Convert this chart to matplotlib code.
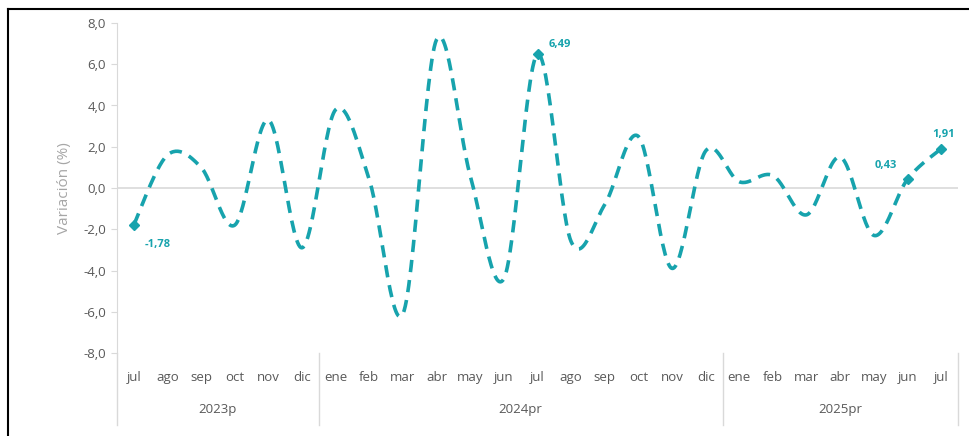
import matplotlib
matplotlib.use("Agg")
import matplotlib.pyplot as plt
import numpy as np
from matplotlib.lines import Line2D

plt.rcParams["font.family"] = ["Open Sans", "DejaVu Sans"]

months = ["jul", "ago", "sep", "oct", "nov", "dic",
          "ene", "feb", "mar", "abr", "may", "jun", "jul", "ago", "sep", "oct", "nov", "dic",
          "ene", "feb", "mar", "abr", "may", "jun", "jul"]
years = ["2023p", "2024pr", "2025pr"]
year_spans = [(0, 5), (6, 17), (18, 24)]
values = [-1.78, 1.6, 1.0, -1.8, 3.3, -2.9,
          3.8, 0.4, -6.1, 7.2, 0.6, -4.4, 6.49, -2.6, -0.8, 2.5, -3.9, 1.8,
          0.3, 0.6, -1.3, 1.5, -2.3, 0.43, 1.91]
labeled = {0: "-1,78", 12: "6,49", 23: "0,43", 24: "1,91"}

TEAL = "#17A3AD"
GREY = "#595959"
LIGHT = "#D9D9D9"


def smooth(xs, ys, n=30):
    """Curva suavizada tipo Excel (Bezier con puntos de control 1/6)."""
    xs, ys = np.asarray(xs, float), np.asarray(ys, float)
    px = np.concatenate([[xs[0]], xs, [xs[-1]]])
    py = np.concatenate([[ys[0]], ys, [ys[-1]]])
    ox, oy = [], []
    t = np.linspace(0, 1, n)
    for i in range(1, len(px) - 2):
        p0 = np.array([px[i], py[i]])
        p3 = np.array([px[i + 1], py[i + 1]])
        p1 = p0 + (np.array([px[i + 1], py[i + 1]]) - np.array([px[i - 1], py[i - 1]])) / 6
        p2 = p3 - (np.array([px[i + 2], py[i + 2]]) - np.array([px[i], py[i]])) / 6
        b = ((1 - t) ** 3)[:, None] * p0 + (3 * (1 - t) ** 2 * t)[:, None] * p1 \
            + (3 * (1 - t) * t ** 2)[:, None] * p2 + (t ** 3)[:, None] * p3
        ox.extend(b[:, 0]); oy.extend(b[:, 1])
    return np.array(ox), np.array(oy)


W, H = 969, 436
fig = plt.figure(figsize=(W / 100, H / 100), dpi=100)
ax = fig.add_axes([117 / W, 1 - 353 / H, (958 - 117) / W, 330 / H])

x = np.arange(len(values))
sx, sy = smooth(x, values)
ax.plot(sx, sy, color=TEAL, lw=2.6, ls=(0, (3.4, 2.2)), solid_capstyle="butt")
for i, txt in labeled.items():
    ax.plot(x[i], values[i], marker="D", ms=5, color=TEAL)

offsets = {0: (8, -14, "left"), 12: (8, 7, "left"), 23: (-8, 10, "right"), 24: (2, 10, "center")}
for i, txt in labeled.items():
    dx, dy, ha = offsets[i]
    ax.annotate(txt, (x[i], values[i]), xytext=(dx, dy), textcoords="offset points",
                ha=ha, va="center", fontsize=8, fontweight="bold", color=TEAL)

ax.set_xlim(-0.5, len(values) - 0.5)
ax.set_ylim(-8, 8)
ax.set_yticks(np.arange(-8, 9, 2))
ax.set_yticklabels([f"{v:.1f}".replace(".", ",") for v in np.arange(-8, 9, 2)],
                   fontsize=9.5, color=GREY)
ax.tick_params(axis="y", length=4, color=LIGHT, pad=4)
ax.set_xticks([])
ax.axhline(0, color=LIGHT, lw=1.2, zorder=0)
for s in ["top", "right", "bottom"]:
    ax.spines[s].set_visible(False)
ax.spines["left"].set_color(LIGHT)
ax.set_ylabel("Variación (%)", fontsize=11, color="#A6A6A6", labelpad=8)

# Etiquetas de meses y años debajo del eje
for i, m in enumerate(months):
    ax.text(i, -9.2, m, ha="center", va="center", fontsize=9.5, color=GREY, clip_on=False)
for (a, b), yr in zip(year_spans, years):
    ax.text((a + b) / 2, -10.75, yr, ha="center", va="center", fontsize=9.5, color=GREY, clip_on=False)
for xb in [-0.5, 5.5, 17.5, 24.5]:
    ax.plot([xb, xb], [-8, -11.5], color=LIGHT, lw=1, clip_on=False)

# Marco de la imagen
fig.add_artist(Line2D([8 / W, 8 / W], [0, 1 - 9 / H], color="black", lw=1.5))
fig.add_artist(Line2D([8 / W, 1], [1 - 9 / H, 1 - 9 / H], color="black", lw=1.5))

fig.savefig("out.png", dpi=100)
